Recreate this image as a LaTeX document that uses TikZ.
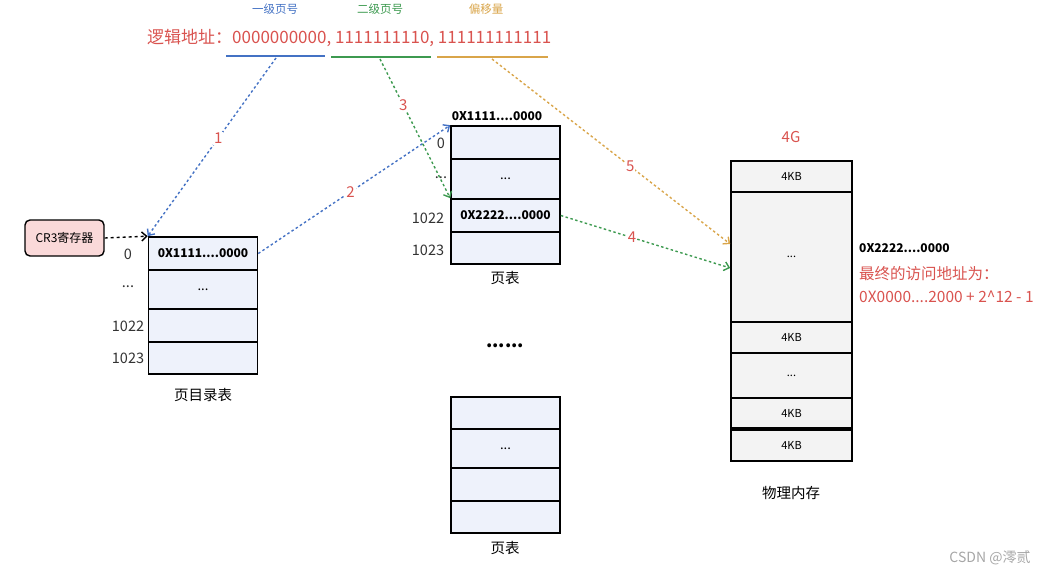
\documentclass[tikz,border=0pt]{standalone}
\usepackage{fontspec}
\setmainfont{Noto Sans CJK SC}
\usetikzlibrary{arrows.meta}
\definecolor{cblue}{HTML}{4472C4}
\definecolor{cgreen}{HTML}{3D9A50}
\definecolor{corange}{HTML}{D9A54A}
\definecolor{cred}{HTML}{D9534F}
\definecolor{cellfill}{HTML}{EEF2FB}
\definecolor{memfill}{HTML}{F3F3F3}
\definecolor{pink}{HTML}{FAD9D9}
\tikzset{
 x=1pt,y=-1pt,
 cell/.style={draw=black,line width=1.6pt,fill=cellfill,minimum width=109pt,inner sep=0pt,font=\fontsize{12}{13}\selectfont\bfseries},
 mem/.style={draw=black,line width=1.6pt,fill=memfill,minimum width=121pt,inner sep=0pt,font=\fontsize{11}{12}\selectfont},
 lbl/.style={font=\fontsize{14.5}{15}\selectfont,text=black!80},
 captxt/.style={font=\fontsize{14.5}{15}\selectfont},
 num/.style={font=\fontsize{15}{16}\selectfont,text=cred,fill=white,inner sep=1pt},
 con/.style={line width=1.4pt,dash pattern=on 2.5pt off 2.5pt,-{Straight Barb[length=5pt,width=9pt]}},
 uline/.style={line width=1.8pt},
}
\begin{document}
\begin{tikzpicture}
\useasboundingbox (0,0) rectangle (1060,576);
% top labels
\node[font=\fontsize{11.5}{12}\selectfont,text=cblue] (t1) at (275,9) {一级页号};
\node[font=\fontsize{11.5}{12}\selectfont,text=cgreen] (t2) at (380,9) {二级页号};
\node[font=\fontsize{11.5}{12}\selectfont,text=corange] (t3) at (486,9) {偏移量};
\node[font=\fontsize{17}{18}\selectfont,text=cred,anchor=west,inner sep=0pt] (la) at (147,38) {逻辑地址：0000000000, 1111111110, 111111111111};
\coordinate (b1a) at (226,56); \coordinate (b1b) at (325,56);
\coordinate (b2a) at (331,57); \coordinate (b2b) at (431,57);
\coordinate (b3a) at (437,57); \coordinate (b3b) at (548,57);
\draw[uline,cblue] (b1a) -- (b1b);
\draw[uline,cgreen] (b2a) -- (b2b);
\draw[uline,corange] (b3a) -- (b3b);
\coordinate (s1) at (276,58); \coordinate (s3) at (380,59); \coordinate (s5) at (492,59);
% CR3
\node[draw=black,line width=1.4pt,fill=pink,rounded corners=5pt,minimum width=79pt,minimum height=36pt,font=\fontsize{12}{13}\selectfont] (cr3) at (64.5,238) {CR3寄存器};
% page directory
\node[cell,minimum height=33pt] (d0) at (203,253.5) {0X1111....0000};
\node[cell,minimum height=39pt,font=\fontsize{13}{13}\selectfont] (d1) at (203,289.5) {...};
\node[cell,minimum height=33pt] (d2) at (203,325.5) {};
\node[cell,minimum height=32pt] (d3) at (203,358) {};
\node[lbl] (ld0) at (128,254) {0};
\node[lbl] (ld1) at (128,287) {...};
\node[lbl] (ld2) at (128,326) {1022};
\node[lbl] (ld3) at (128,358) {1023};
\node[captxt] (cd) at (203,395) {页目录表};
% page table 1
\node[font=\fontsize{12}{13}\selectfont\bfseries] (h1) at (497,116) {0X1111....0000};
\node[cell,minimum height=33pt] (p0) at (505.5,142.5) {};
\node[cell,minimum height=40pt,font=\fontsize{13}{13}\selectfont] (p1) at (505.5,179) {...};
\node[cell,minimum height=33pt] (p2) at (505.5,215.5) {0X2222....0000};
\node[cell,minimum height=32pt] (p3) at (505.5,248) {};
\node[lbl] (lp0) at (441,143) {0};
\node[lbl] (lp1) at (441,178) {...};
\node[lbl] (lp2) at (428,218) {1022};
\node[lbl] (lp3) at (428,250) {1023};
\node[captxt] (cp1) at (505,278) {页表};
\node[font=\fontsize{18}{18}\selectfont\bfseries] (dots) at (505,346) {......};
% page table 2
\node[cell,minimum height=32pt] (q0) at (505.5,413) {};
\node[cell,minimum height=39pt,font=\fontsize{13}{13}\selectfont] (q1) at (505.5,448.5) {...};
\node[cell,minimum height=33pt] (q2) at (505.5,484.5) {};
\node[cell,minimum height=32pt] (q3) at (505.5,517) {};
\node[captxt] (cp2) at (505,548) {页表};
% physical memory
\node[font=\fontsize{15}{16}\selectfont,text=cred] (g4) at (791,137) {4G};
\node[mem,minimum height=31pt] (m0) at (791.5,176.5) {4KB};
\node[mem,minimum height=130pt] (m1) at (791.5,257) {...};
\node[mem,minimum height=31pt] (m2) at (791.5,337.5) {4KB};
\node[mem,minimum height=45pt] (m3) at (791.5,375.5) {...};
\node[mem,minimum height=30pt] (m4) at (791.5,413) {4KB};
\node[mem,minimum height=31pt] (m5) at (791.5,445.5) {4KB};
\node[captxt] (cm) at (791,493) {物理内存};
\node[anchor=west,font=\fontsize{12}{13}\selectfont\bfseries,inner sep=0pt] (r1) at (859,248) {0X2222....0000};
\node[anchor=west,font=\fontsize{15.5}{16}\selectfont,text=cred,inner sep=0pt] (r2) at (859,274) {最终的访问地址为：};
\node[anchor=west,font=\fontsize{15.5}{16}\selectfont,text=cred,inner sep=0pt] (r3) at (859,297) {0X0000....2000 + 2\^{}12 - 1};
\node[font=\fontsize{14}{15}\selectfont,text=black!35] (wm) at (990,558) {CSDN @澪贰};
% connectors
\draw[con,black,dash pattern=on 3pt off 3pt] (cr3.east) -- (d0.north west);
\draw[con,cblue] (s1) -- node[num,pos=0.45] {1} (d0.north west);
\draw[con,cblue] (d0.east) -- node[num,pos=0.48] {2} (p0.north west);
\draw[con,cgreen] (s3) -- node[num,pos=0.33] {3} (p2.north west);
\draw[con,cgreen] (p2.east) -- node[num,pos=0.42] {4} ([yshift=-11pt]m1.west);
\draw[con,corange] (s5) -- node[num,pos=0.58] {5} ([yshift=13pt]m1.west);
\end{tikzpicture}
\end{document}
